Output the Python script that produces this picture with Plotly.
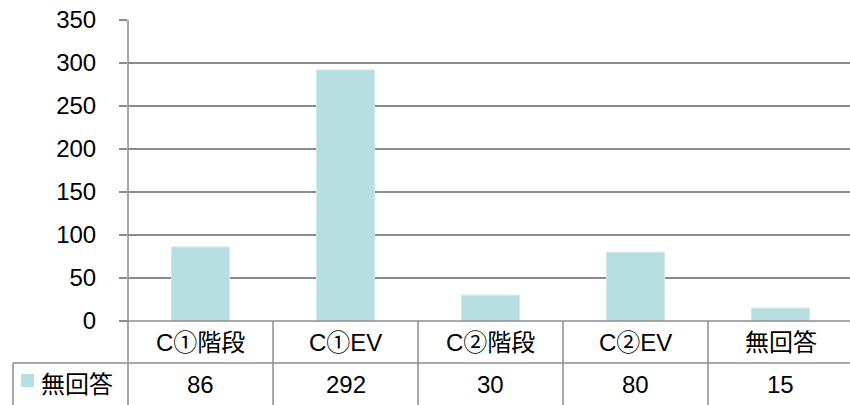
import plotly.graph_objects as go

# Survey counts by category
categories = ["C①階段", "C①EV", "C②階段", "C②EV", "無回答"]
series_name = "無回答"
values = [86, 292, 30, 80, 15]
y_ticks = [0, 50, 100, 150, 200, 250, 300, 350]

W, H = 850, 405
BAR = "#B7DEE1"
BAR_EDGE = "#CFE9EB"
GRID = "#8C8C8C"
LW = 1.5
FONT = "Liberation Sans, Arial, Noto Sans CJK JP, sans-serif"
FS = 24

# pixel helpers for layout placement
def px(x):
    return x / W

def py(y):
    return 1 - y / H

axis_left, plot_top, plot_bottom = 128, 20, 321
cat_w = 145
row1_bottom = 363

fig = go.Figure()
fig.add_trace(go.Bar(
    x=list(range(len(categories))),
    y=values,
    name=series_name,
    marker=dict(color=BAR, line=dict(width=1, color=BAR_EDGE)),
    width=0.4,
    showlegend=False,
))

x_span = (W - axis_left) / cat_w

fig.update_layout(
    width=W, height=H,
    margin=dict(l=0, r=0, t=0, b=0, pad=0, autoexpand=False),
    paper_bgcolor="white", plot_bgcolor="white",
    font=dict(family=FONT, size=FS, color="black"),
    xaxis=dict(
        domain=[px(axis_left), 1],
        range=[-0.5, -0.5 + x_span],
        showticklabels=False, showgrid=False, zeroline=False,
        showline=False, ticks="", automargin=False,
    ),
    yaxis=dict(
        domain=[py(plot_bottom), py(plot_top)],
        range=[0, 350],
        tickvals=y_ticks,
        ticks="outside", ticklen=8, tickcolor=GRID, tickwidth=LW,
        showgrid=True, gridcolor=GRID, gridwidth=LW,
        zeroline=False, showline=False,
        ticklabelstandoff=18, automargin=False,
        tickfont=dict(family=FONT, size=FS, color="black"),
    ),
    bargap=0.6,
)

shapes = []
line = dict(color=GRID, width=LW)
# y axis line, running down through the data table
shapes.append(dict(type="line", xref="paper", yref="paper",
                   x0=px(axis_left), x1=px(axis_left), y0=0, y1=py(plot_top), line=line))
# category axis line / table top
shapes.append(dict(type="line", xref="paper", yref="paper",
                   x0=px(axis_left - 8), x1=1, y0=py(plot_bottom), y1=py(plot_bottom), line=line))
# line between header row and value row
shapes.append(dict(type="line", xref="paper", yref="paper",
                   x0=px(13), x1=1, y0=py(row1_bottom), y1=py(row1_bottom), line=line))
# left edge of legend cell
shapes.append(dict(type="line", xref="paper", yref="paper",
                   x0=px(13), x1=px(13), y0=0, y1=py(row1_bottom), line=line))
# category separators
for i in range(len(categories)):
    shapes.append(dict(type="line", xref="x", yref="paper",
                       x0=i + 0.5, x1=i + 0.5, y0=0, y1=py(plot_bottom), line=line))
# legend key
shapes.append(dict(type="rect", xref="paper", yref="paper",
                   x0=px(21), x1=px(34), y0=py(387), y1=py(374),
                   fillcolor=BAR, line=dict(width=0)))
fig.update_layout(shapes=shapes)

annotations = []
for i, (c, v) in enumerate(zip(categories, values)):
    annotations.append(dict(x=i, xref="x", y=py(342), yref="paper", text=c,
                            showarrow=False, xanchor="center", yanchor="middle",
                            font=dict(family=FONT, size=FS, color="black")))
    annotations.append(dict(x=i, xref="x", y=py(384), yref="paper", text=str(v),
                            showarrow=False, xanchor="center", yanchor="middle",
                            font=dict(family=FONT, size=FS, color="black")))
annotations.append(dict(x=px(39), xref="paper", y=py(384), yref="paper", text=series_name,
                        showarrow=False, xanchor="left", yanchor="middle",
                        font=dict(family=FONT, size=FS, color="black")))
fig.update_layout(annotations=annotations)

fig.write_html("out.html")
